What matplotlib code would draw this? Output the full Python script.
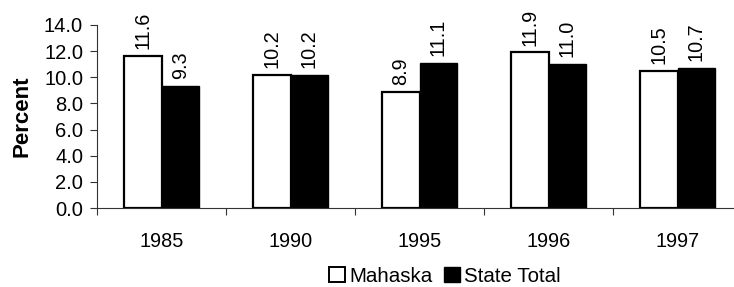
import matplotlib
matplotlib.use("Agg")
import matplotlib.pyplot as plt
import numpy as np
from matplotlib.patches import Patch

plt.rcParams['font.family'] = ['Liberation Sans', 'DejaVu Sans']

years = ["1985", "1990", "1995", "1996", "1997"]
mahaska = [11.6, 10.2, 8.9, 11.9, 10.5]
state_total = [9.3, 10.2, 11.1, 11.0, 10.7]
series_names = ["Mahaska", "State Total"]
yticks = [0, 2, 4, 6, 8, 10, 12, 14]

FS = 14.3
W, H = 734, 287
fig = plt.figure(figsize=(W/100, H/100), dpi=100)
left, right = 97, 742
bottom, top = 208, 25
ax = fig.add_axes([left/W, 1 - bottom/H, (right-left)/W, (bottom-top)/H])

x = np.arange(len(years))
bw = 0.29
b1 = ax.bar(x - bw/2, mahaska, bw, color='white', edgecolor='black', linewidth=1.6)
b2 = ax.bar(x + bw/2, state_total, bw, color='black', edgecolor='black', linewidth=1.0)

for rects, vals in ((b1, mahaska), (b2, state_total)):
    for r, v in zip(rects, vals):
        ax.annotate(f"{v:.1f}", (r.get_x() + r.get_width()/2, v),
                    xytext=(0, 5), textcoords='offset points',
                    rotation=90, ha='center', va='bottom', fontsize=FS)

ax.set_xlim(-0.5, len(years) - 0.5)
ax.set_ylim(0, 14)
ax.set_yticks(yticks)
ax.set_yticklabels([f"{t:.1f}" for t in yticks], fontsize=14.5)
ax.set_xticks(np.arange(-0.5, len(years), 1.0))
ax.set_xticklabels([])
ax.set_xticks(x, minor=True)
ax.set_xticklabels(years, minor=True, fontsize=FS)
ax.tick_params(axis='x', which='minor', length=0, pad=17)
ax.tick_params(axis='x', which='major', length=5, direction='out', color='#333333')
ax.tick_params(axis='y', length=5, direction='out', pad=5, color='#333333')
for s in ('top', 'right'):
    ax.spines[s].set_visible(False)
ax.spines['left'].set_color('#333333')
ax.spines['bottom'].set_color('#333333')
ax.set_ylabel("Percent", fontsize=16, fontweight='bold', labelpad=8)

handles = [Patch(facecolor='white', edgecolor='black', linewidth=1.4),
           Patch(facecolor='black', edgecolor='black')]
fig.legend(handles, series_names, loc='center', bbox_to_anchor=(445/W, 1 - 276/H),
           ncol=2, frameon=False, fontsize=14.8, handlelength=0.75, handleheight=0.75,
           handletextpad=0.2, columnspacing=0.6, borderpad=0)

fig.savefig("out.png", dpi=100)
